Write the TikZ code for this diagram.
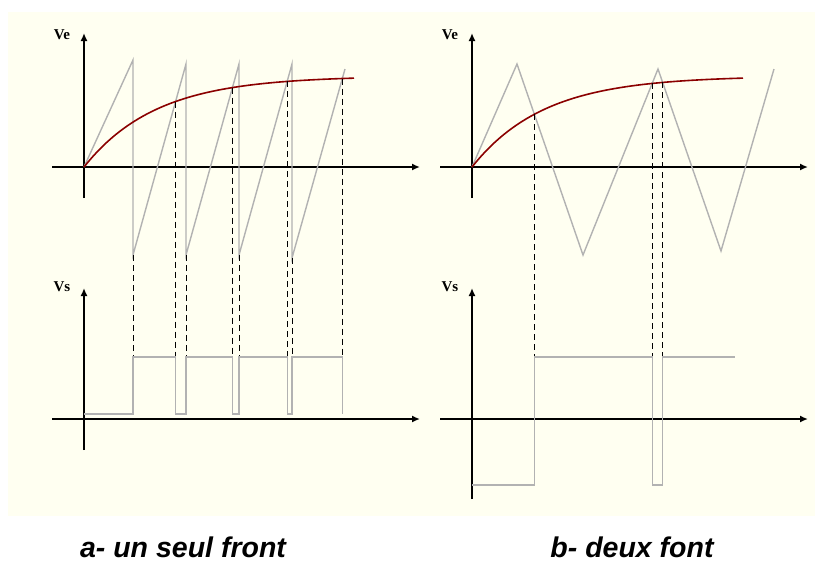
\documentclass[tikz,border=0pt]{standalone}
\usepackage{fontspec}
\setmainfont{Liberation Serif}
\newfontfamily\capfont{Liberation Sans}
\usetikzlibrary{arrows.meta}

\definecolor{cream}{RGB}{255,255,241}
\definecolor{siggray}{RGB}{178,178,178}
\definecolor{vered}{RGB}{139,0,0}

\begin{document}
\begin{tikzpicture}[x=1pt,y=-1pt,
  axis/.style={-{Latex[length=8pt,width=7pt]},line width=1.7pt},
  sig/.style={siggray,line width=1.4pt},
  charge/.style={vered,line width=1.6pt},
  guide/.style={line width=0.7pt,dash pattern=on 6pt off 4pt},
  lab/.style={font=\bfseries\fontsize{15}{17}\selectfont},
  caption/.style={font=\capfont\bfseries\itshape\fontsize{28.5}{34}\selectfont,anchor=base}]
  \useasboundingbox (0,0) rectangle (815,563);
  \fill[cream] (8,12) rectangle (815,516);
  % Axes of the four graphs
  \foreach \ox in {84,472}{
    \draw[axis] (\ox-32,167) -- (\ox+336,167);
    \draw[axis] (\ox,198) -- (\ox,33);
    \draw[axis] (\ox-32,419) -- (\ox+336,419);
  }
  \draw[axis] (84,450) -- (84,288);
  \draw[axis] (472,499) -- (472,288);
  \node[lab] (veA) at (62,35) {Ve};
  \node[lab] (vsA) at (62,287) {Vs};
  \node[lab] (veB) at (450,35) {Ve};
  \node[lab] (vsB) at (450,287) {Vs};
  % a) sawtooth, one edge
  \draw[sig] (84,167) -- (133,60) -- (133,255) -- (186,64) -- (186,255) -- (239,64)
    -- (239,255) -- (292,64) -- (292,258) -- (345,69);
  \draw[charge] plot[domain=84:354,samples=60] (\x,{167-91*(1-exp(-(\x-84)/72))});
  \foreach \x/\y in {133/255,186/255,239/255,292/258}{
    \draw[guide] (\x,\y) -- (\x,357);
  }
  \foreach \x in {175.6,232.5,287.2,342.3}{
    \pgfmathsetmacro{\yc}{167-91*(1-exp(-(\x-84)/72))}
    \draw[guide] (\x,\yc) -- (\x,357);
  }
  \draw[sig] (84,414) -- (133,414) -- (133,357) -- (175.6,357) -- (175.6,414) -- (186,414)
    -- (186,357) -- (232.5,357) -- (232.5,414) -- (239,414) -- (239,357) -- (287.2,357)
    -- (287.2,414) -- (292,414) -- (292,357) -- (342.3,357) -- (342.3,414);
  % b) triangle, two edges
  \draw[sig] (472,167) -- (517,64) -- (583,255) -- (658,69) -- (721,251) -- (774,69);
  \draw[charge] plot[domain=472:743,samples=60] (\x,{167-91*(1-exp(-(\x-472)/72))});
  \foreach \x in {534.6,652.2,662.7}{
    \pgfmathsetmacro{\yc}{167-91*(1-exp(-(\x-472)/72))}
    \draw[guide] (\x,\yc) -- (\x,357);
  }
  \draw[sig] (472,485) -- (534.6,485) -- (534.6,357) -- (652.2,357) -- (652.2,485)
    -- (662.7,485) -- (662.7,357) -- (735,357);
  \node[caption] (capA) at (183,557) {a- un seul front};
  \node[caption] (capB) at (632,557) {b- deux font};
\end{tikzpicture}
\end{document}
